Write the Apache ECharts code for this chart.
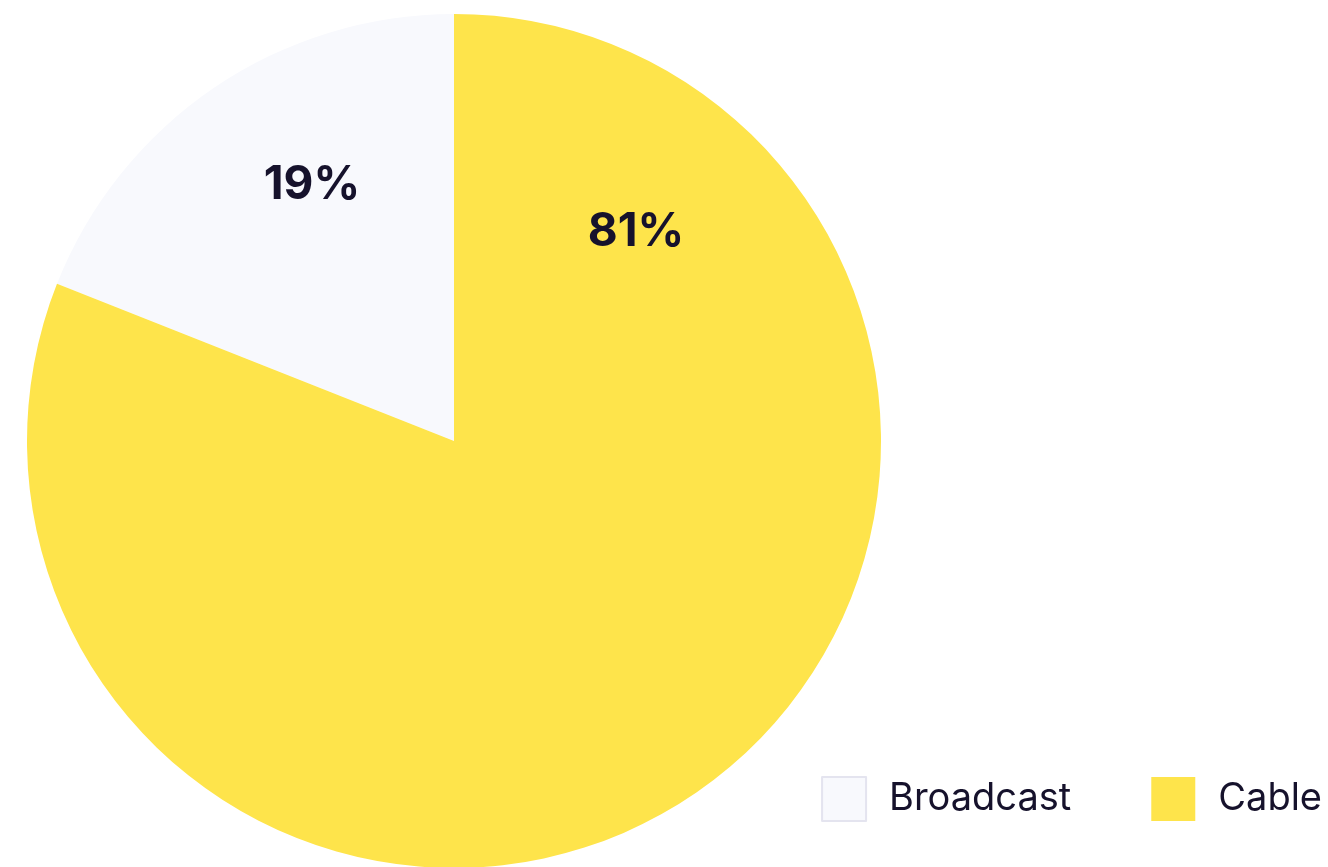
<!DOCTYPE html>
<html>
<head>
<meta charset="utf-8">
<script src="https://cdn.jsdelivr.net/npm/echarts@6/dist/echarts.min.js"></script>
<style>html,body{margin:0;padding:0;background:#fff;}#c{width:1328px;height:867px;}</style>
</head>
<body>
<div id="c"></div>
<script>
const categories = ['Broadcast', 'Cable'];
const values = [19, 81];
const colors = ['#f8f9fd', '#fee44b'];
const labelOffsets = [[-142, -256], [182, -209]];

const chart = echarts.init(document.getElementById('c'), null, {renderer: 'canvas'});
const textColor = '#16122c';
chart.setOption({
  animation: false,
  legend: {
    right: 1,
    bottom: 40,
    itemWidth: 44,
    itemHeight: 44,
    itemGap: 80,
    icon: 'rect',
    textStyle: {fontFamily: 'Inter', fontSize: 38, color: textColor, padding: [0, 0, 0, 18]},
    data: [
      {name: 'Broadcast', itemStyle: {borderColor: '#e4e4ef', borderWidth: 2}},
      {name: 'Cable'}
    ]
  },
  series: [{
    type: 'pie',
    center: [454, 441],
    radius: 427,
    clockwise: false,
    startAngle: 90,
    avoidLabelOverlap: false,
    label: {
      show: true,
      position: 'center',
      formatter: '{c}%',
      fontFamily: 'Inter',
      fontWeight: 'bold',
      fontSize: 46,
      color: textColor
    },
    labelLine: {show: false},
    emphasis: {disabled: true},
    data: categories.map((n, i) => ({
      name: n,
      value: values[i],
      itemStyle: {color: colors[i]},
      label: {offset: labelOffsets[i]}
    }))
  }]
});
</script>
</body>
</html>
